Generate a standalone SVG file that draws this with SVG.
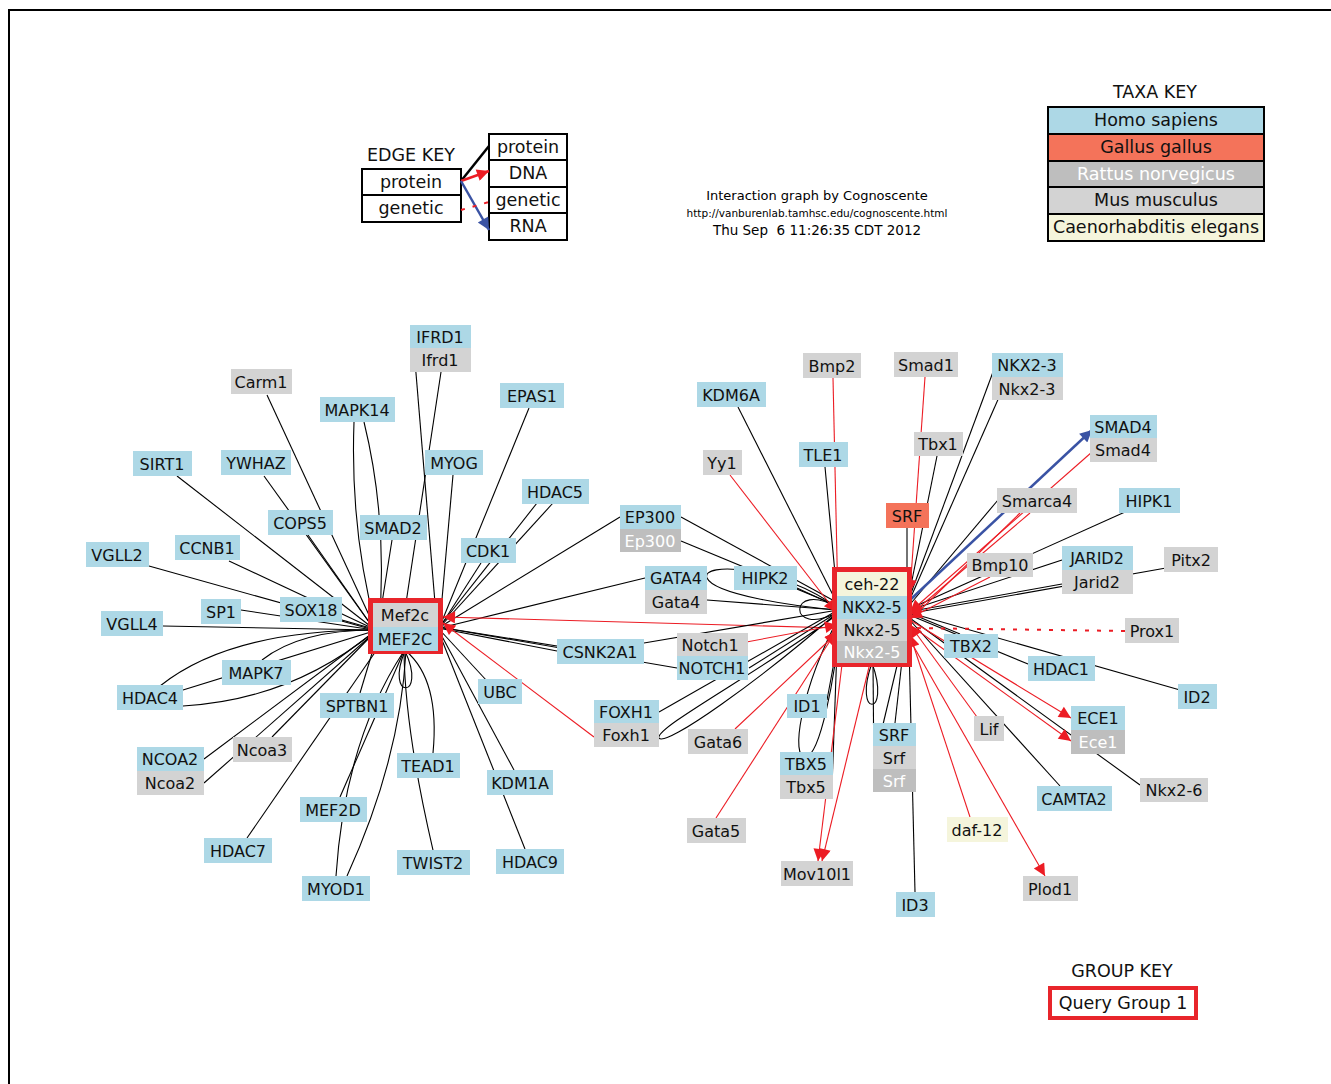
<svg xmlns="http://www.w3.org/2000/svg" width="1331" height="1084" viewBox="0 0 1331 1084">
<style>
text{font-family:"DejaVu Sans","Verdana","Liberation Sans",sans-serif;text-anchor:middle}
.n{font-size:16px;fill:#111}
.w{font-size:16px;fill:#fff}
.k{font-size:17.5px;fill:#111}
.kw{font-size:17.5px;fill:#fff}
.b{fill:#add8e6}
.g{fill:#d3d3d3}
.r{fill:#bebebe}
.y{fill:#f5f5dc}
.t{fill:#f4735a}
.kb{stroke:#000;stroke-width:2}
.e{fill:none;stroke:#000;stroke-width:1.1}
.er{fill:none;stroke:#ec1c24;stroke-width:1.1}
.eb{fill:none;stroke:#3a53a4;stroke-width:2.5}
.ed{fill:none;stroke:#ec1c24;stroke-width:2;stroke-dasharray:4,8}
.grp{fill:none;stroke:#e8252b;stroke-width:5}
</style>
<defs>
<marker id="ar" viewBox="0 0 10 10" refX="10" refY="5" markerWidth="20" markerHeight="12" markerUnits="userSpaceOnUse" orient="auto"><path d="M0,0 L10,5 L0,10 z" fill="#ec1c24"/></marker>
<marker id="ab" viewBox="0 0 10 10" refX="10" refY="5" markerWidth="18" markerHeight="12" markerUnits="userSpaceOnUse" orient="auto"><path d="M0,0 L10,5 L0,10 z" fill="#3a53a4"/></marker>
</defs>
<rect x="0" y="0" width="1331" height="1084" fill="#fff"/>
<rect x="9" y="10" width="1340" height="1100" fill="none" stroke="#000" stroke-width="2"/>

<g id="edge-key">
<text x="411" y="161" class="k">EDGE KEY</text>
<rect x="362" y="169" width="99" height="26" fill="#fff" class="kb"/>
<text x="411" y="188" class="k">protein</text>
<rect x="362" y="195" width="99" height="27" fill="#fff" class="kb"/>
<text x="411" y="214" class="k">genetic</text>
<rect x="489" y="134" width="78" height="26" fill="#fff" class="kb"/>
<text x="528" y="153" class="k">protein</text>
<rect x="489" y="160" width="78" height="27" fill="#fff" class="kb"/>
<text x="528" y="179" class="k">DNA</text>
<rect x="489" y="187" width="78" height="26" fill="#fff" class="kb"/>
<text x="528" y="206" class="k">genetic</text>
<rect x="489" y="213" width="78" height="27" fill="#fff" class="kb"/>
<text x="528" y="232" class="k">RNA</text>
<path d="M461,181 L489,146" fill="none" stroke="#000" stroke-width="2.5"/>
<path d="M461,181 L489,171" fill="none" stroke="#ec1c24" stroke-width="2.5" marker-end="url(#ar)"/>
<path d="M461,181 L489,230" class="eb" marker-end="url(#ab)"/>
<path d="M461,210 L489,202" class="ed"/>
</g>

<g id="title">
<text x="817" y="200" style="font-size:13px">Interaction graph by Cognoscente</text>
<text x="817" y="217" style="font-size:10.5px">http://vanburenlab.tamhsc.edu/cognoscente.html</text>
<text x="817" y="235" style="font-size:13.5px" xml:space="preserve">Thu Sep  6 11:26:35 CDT 2012</text>
</g>

<g id="taxa-key">
<text x="1155" y="98" class="k">TAXA KEY</text>
<rect x="1048" y="107" width="216" height="27" class="b kb"/><text x="1156" y="126" class="k">Homo sapiens</text>
<rect x="1048" y="134" width="216" height="27" class="t kb"/><text x="1156" y="153" class="k">Gallus gallus</text>
<rect x="1048" y="161" width="216" height="26" class="r kb"/><text x="1156" y="180" class="kw">Rattus norvegicus</text>
<rect x="1048" y="187" width="216" height="27" class="g kb"/><text x="1156" y="206" class="k">Mus musculus</text>
<rect x="1048" y="214" width="216" height="27" class="y kb"/><text x="1156" y="233" class="k">Caenorhabditis elegans</text>
</g>

<g id="group-key">
<text x="1122" y="977" class="k">GROUP KEY</text>
<rect x="1050" y="988" width="146" height="30" fill="#fff" stroke="#e8252b" stroke-width="4"/>
<text x="1123" y="1009" class="k">Query Group 1</text>
</g>

<g id="connectors">
<path class="e" d="M267,395 L375,628"/>
<path class="e" d="M354,422 Q350,530 376,628"/>
<path class="e" d="M364,422 Q388,520 379,628"/>
<path class="e" d="M177,476 L374,629"/>
<path class="e" d="M264,476 L374,629"/>
<path class="e" d="M308,535 L374,629"/>
<path class="e" d="M392,540 L378,628"/>
<path class="e" d="M229,561 L374,629"/>
<path class="e" d="M149,566 L374,629"/>
<path class="e" d="M241,610 L374,630"/>
<path class="e" d="M338,620 L374,630"/>
<path class="e" d="M163,626 L374,630"/>
<path class="e" d="M262,660 Q300,630 374,630"/>
<path class="e" d="M160,686 Q230,630 374,630"/>
<path class="e" d="M183,690 L374,631"/>
<path class="e" d="M183,706 Q290,700 374,632"/>
<path class="e" d="M360,693 L376,640"/>
<path class="e" d="M204,759 L374,632"/>
<path class="e" d="M204,783 L374,633"/>
<path class="e" d="M272,737 L374,633"/>
<path class="e" d="M247,838 L378,648"/>
<path class="e" d="M340,797 L404,651"/>
<path class="e" d="M336,876 Q345,740 404,651"/>
<path class="e" d="M347,876 Q400,760 406,651"/>
<path class="e" d="M433,753 Q440,680 406,651"/>
<path class="e" d="M433,850 Q405,730 404,651"/>
<path class="e" d="M405,651 C384,700 428,700 405,651"/>
<path class="e" d="M525,849 L438,630"/>
<path class="e" d="M514,770 L438,629"/>
<path class="e" d="M487,681 L438,628"/>
<path class="e" d="M557,646 L438,627"/>
<path class="e" d="M557,651 L438,628"/>
<path class="e" d="M677,668 L438,627"/>
<path class="e" d="M413,337 L436,615"/>
<path class="e" d="M441,372 L406,603"/>
<path class="e" d="M453,475 L440,622"/>
<path class="e" d="M529,408 L440,626"/>
<path class="e" d="M537,503 L440,626"/>
<path class="e" d="M553,503 L440,627"/>
<path class="e" d="M481,563 L440,627"/>
<path class="e" d="M620,517 L440,627"/>
<path class="e" d="M645,578 L440,628"/>
<path class="er" d="M594,737 L443,623" marker-end="url(#ar)"/>
<path class="er" d="M837,628 L443,617" marker-end="url(#ar)"/>
<path class="e" d="M644,643 L838,610"/>
<path class="e" d="M738,407 L838,605"/>
<path class="e" d="M825,467 L838,605"/>
<path class="e" d="M937,456 L907,605"/>
<path class="e" d="M993,372 L907,604"/>
<path class="e" d="M1000,395 L907,606"/>
<path class="e" d="M907,528 L907,600"/>
<path class="e" d="M998,500 L907,608"/>
<path class="e" d="M1125,512 L907,610"/>
<path class="e" d="M1062,560 L907,611"/>
<path class="e" d="M1062,584 L907,612"/>
<path class="e" d="M1166,568 L907,614"/>
<path class="e" d="M960,634 L907,612"/>
<path class="e" d="M1028,664 L907,614"/>
<path class="e" d="M1180,690 L907,612"/>
<path class="e" d="M1060,786 L907,617"/>
<path class="e" d="M1140,785 L907,616"/>
<path class="e" d="M895,723 L906,625"/>
<path class="e" d="M875,758 L906,628"/>
<path class="e" d="M874,780 L873,663"/>
<path class="e" d="M915,892 L909,645"/>
<path class="e" d="M872,663 C852,718 892,718 872,663"/>
<path class="e" d="M832,787 L838,620"/>
<path class="e" d="M840,615 C800,690 790,760 806,757 C820,754 835,680 840,620"/>
<path class="e" d="M827,700 L840,630"/>
<path class="e" d="M681,517 L838,603"/>
<path class="e" d="M681,541 L838,606"/>
<path class="e" d="M707,600 L838,610"/>
<path class="e" d="M838,608 C780,565 700,562 707,578 C714,594 790,606 838,610"/>
<path class="e" d="M797,588 L838,607"/>
<path class="e" d="M838,608 C788,578 786,640 838,612"/>
<path class="e" d="M749,668 L838,612"/>
<path class="e" d="M659,712 L838,610"/>
<path class="e" d="M838,612 C760,680 665,748 659,738 C654,728 760,672 838,614"/>
<path class="er" d="M833,378 L838,604" marker-end="url(#ar)"/>
<path class="er" d="M730,475 L836,612" marker-end="url(#ar)"/>
<path class="er" d="M925,377 L910,592" marker-end="url(#ar)"/>
<path class="er" d="M1092,452 L910,612" marker-end="url(#ar)"/>
<path class="eb" d="M910,600 L1092,430" marker-end="url(#ab)"/>
<path class="er" d="M1030,513 L910,615" marker-end="url(#ar)"/>
<path class="er" d="M1020,513 L910,620"/>
<path class="er" d="M990,577 L910,618" marker-end="url(#ar)"/>
<path class="ed" d="M1125,631 L912,628"/>
<path class="er" d="M977,717 L910,625" marker-end="url(#ar)"/>
<path class="er" d="M910,620 L1071,718" marker-end="url(#ar)"/>
<path class="er" d="M910,625 L1071,741" marker-end="url(#ar)"/>
<path class="er" d="M970,817 L910,635" marker-end="url(#ar)"/>
<path class="er" d="M910,640 L1045,876" marker-end="url(#ar)"/>
<path class="er" d="M845,640 L818,861" marker-end="url(#ar)"/>
<path class="er" d="M870,663 L822,861" marker-end="url(#ar)"/>
<path class="er" d="M716,818 L837,630" marker-end="url(#ar)"/>
<path class="er" d="M735,729 L837,633" marker-end="url(#ar)"/>
<path class="er" d="M741,643 L837,625" marker-end="url(#ar)"/>
</g>

<g id="MEF2C-group">
<rect x="370.5" y="600.5" width="70" height="51" class="grp"/>
<rect x="373" y="603" width="65" height="24" class="g"/><text x="405" y="621" class="n">Mef2c</text>
<rect x="373" y="627" width="65" height="24" class="b"/><text x="405" y="645" class="n">MEF2C</text>
</g>

<g id="NKX2-5-group">
<rect x="834.5" y="569.5" width="75" height="95" class="grp"/>
<rect x="837" y="572" width="70" height="24" class="y"/><text x="872" y="590" class="n">ceh-22</text>
<rect x="837" y="596" width="70" height="23" class="b"/><text x="872" y="613" class="n">NKX2-5</text>
<rect x="837" y="619" width="70" height="22" class="g"/><text x="872" y="636" class="n">Nkx2-5</text>
<rect x="837" y="641" width="70" height="22" class="r"/><text x="872" y="658" class="w">Nkx2-5</text>
</g>

<g id="IFRD1"><rect x="410" y="325" width="61" height="23" class="b"/><text x="440" y="343" class="n">IFRD1</text><rect x="410" y="348" width="61" height="24" class="g"/><text x="440" y="366" class="n">Ifrd1</text></g>
<g id="Carm1"><rect x="231" y="369" width="61" height="25" class="g"/><text x="261" y="388" class="n">Carm1</text></g>
<g id="MAPK14"><rect x="320" y="397" width="75" height="25" class="b"/><text x="357" y="416" class="n">MAPK14</text></g>
<g id="EPAS1"><rect x="500" y="383" width="64" height="25" class="b"/><text x="532" y="402" class="n">EPAS1</text></g>
<g id="SIRT1"><rect x="133" y="451" width="59" height="25" class="b"/><text x="162" y="470" class="n">SIRT1</text></g>
<g id="YWHAZ"><rect x="221" y="450" width="70" height="25" class="b"/><text x="256" y="469" class="n">YWHAZ</text></g>
<g id="MYOG"><rect x="425" y="450" width="58" height="25" class="b"/><text x="454" y="469" class="n">MYOG</text></g>
<g id="HDAC5"><rect x="522" y="479" width="67" height="25" class="b"/><text x="555" y="498" class="n">HDAC5</text></g>
<g id="COPS5"><rect x="268" y="510" width="65" height="25" class="b"/><text x="300" y="529" class="n">COPS5</text></g>
<g id="SMAD2"><rect x="360" y="515" width="67" height="25" class="b"/><text x="393" y="534" class="n">SMAD2</text></g>
<g id="CDK1"><rect x="461" y="538" width="55" height="25" class="b"/><text x="488" y="557" class="n">CDK1</text></g>
<g id="CCNB1"><rect x="175" y="535" width="65" height="25" class="b"/><text x="207" y="554" class="n">CCNB1</text></g>
<g id="VGLL2"><rect x="86" y="542" width="63" height="25" class="b"/><text x="117" y="561" class="n">VGLL2</text></g>
<g id="SP1"><rect x="201" y="599" width="40" height="25" class="b"/><text x="221" y="618" class="n">SP1</text></g>
<g id="SOX18"><rect x="280" y="597" width="62" height="25" class="b"/><text x="311" y="616" class="n">SOX18</text></g>
<g id="VGLL4"><rect x="101" y="611" width="62" height="25" class="b"/><text x="132" y="630" class="n">VGLL4</text></g>
<g id="MAPK7"><rect x="222" y="660" width="69" height="25" class="b"/><text x="256" y="679" class="n">MAPK7</text></g>
<g id="HDAC4"><rect x="117" y="685" width="66" height="25" class="b"/><text x="150" y="704" class="n">HDAC4</text></g>
<g id="SPTBN1"><rect x="320" y="693" width="74" height="25" class="b"/><text x="357" y="712" class="n">SPTBN1</text></g>
<g id="NCOA2"><rect x="137" y="747" width="67" height="24" class="b"/><text x="170" y="765" class="n">NCOA2</text><rect x="137" y="771" width="67" height="24" class="g"/><text x="170" y="789" class="n">Ncoa2</text></g>
<g id="Ncoa3"><rect x="233" y="737" width="59" height="25" class="g"/><text x="262" y="756" class="n">Ncoa3</text></g>
<g id="UBC"><rect x="478" y="679" width="44" height="25" class="b"/><text x="500" y="698" class="n">UBC</text></g>
<g id="TEAD1"><rect x="397" y="753" width="63" height="25" class="b"/><text x="428" y="772" class="n">TEAD1</text></g>
<g id="KDM1A"><rect x="487" y="770" width="66" height="25" class="b"/><text x="520" y="789" class="n">KDM1A</text></g>
<g id="MEF2D"><rect x="300" y="797" width="67" height="25" class="b"/><text x="333" y="816" class="n">MEF2D</text></g>
<g id="HDAC7"><rect x="204" y="838" width="68" height="25" class="b"/><text x="238" y="857" class="n">HDAC7</text></g>
<g id="TWIST2"><rect x="397" y="850" width="73" height="25" class="b"/><text x="433" y="869" class="n">TWIST2</text></g>
<g id="HDAC9"><rect x="496" y="849" width="68" height="25" class="b"/><text x="530" y="868" class="n">HDAC9</text></g>
<g id="MYOD1"><rect x="302" y="876" width="68" height="25" class="b"/><text x="336" y="895" class="n">MYOD1</text></g>
<g id="CSNK2A1"><rect x="557" y="639" width="87" height="25" class="b"/><text x="600" y="658" class="n">CSNK2A1</text></g>

<g id="Bmp2"><rect x="803" y="353" width="58" height="25" class="g"/><text x="832" y="372" class="n">Bmp2</text></g>
<g id="Smad1"><rect x="894" y="352" width="64" height="25" class="g"/><text x="926" y="371" class="n">Smad1</text></g>
<g id="NKX2-3"><rect x="992" y="353" width="71" height="24" class="b"/><text x="1027" y="371" class="n">NKX2-3</text><rect x="992" y="377" width="71" height="23" class="g"/><text x="1027" y="395" class="n">Nkx2-3</text></g>
<g id="KDM6A"><rect x="697" y="382" width="69" height="25" class="b"/><text x="731" y="401" class="n">KDM6A</text></g>
<g id="SMAD4"><rect x="1090" y="415" width="67" height="23" class="b"/><text x="1123" y="433" class="n">SMAD4</text><rect x="1090" y="438" width="67" height="24" class="g"/><text x="1123" y="456" class="n">Smad4</text></g>
<g id="Tbx1"><rect x="914" y="432" width="49" height="24" class="g"/><text x="938" y="450" class="n">Tbx1</text></g>
<g id="TLE1"><rect x="799" y="442" width="49" height="25" class="b"/><text x="823" y="461" class="n">TLE1</text></g>
<g id="Yy1"><rect x="703" y="450" width="39" height="25" class="g"/><text x="722" y="469" class="n">Yy1</text></g>
<g id="HIPK1"><rect x="1119" y="488" width="61" height="25" class="b"/><text x="1149" y="507" class="n">HIPK1</text></g>
<g id="Smarca4"><rect x="997" y="488" width="80" height="25" class="g"/><text x="1037" y="507" class="n">Smarca4</text></g>
<g id="SRF-gallus"><rect x="886" y="503" width="43" height="25" class="t"/><text x="907" y="522" class="n">SRF</text></g>
<g id="EP300"><rect x="620" y="505" width="61" height="24" class="b"/><text x="650" y="523" class="n">EP300</text><rect x="620" y="529" width="61" height="23" class="r"/><text x="650" y="547" class="w">Ep300</text></g>
<g id="JARID2"><rect x="1062" y="546" width="71" height="24" class="b"/><text x="1097" y="564" class="n">JARID2</text><rect x="1062" y="570" width="71" height="24" class="g"/><text x="1097" y="588" class="n">Jarid2</text></g>
<g id="Pitx2"><rect x="1164" y="547" width="54" height="25" class="g"/><text x="1191" y="566" class="n">Pitx2</text></g>
<g id="Bmp10"><rect x="967" y="553" width="66" height="24" class="g"/><text x="1000" y="571" class="n">Bmp10</text></g>
<g id="GATA4"><rect x="645" y="566" width="62" height="24" class="b"/><text x="676" y="584" class="n">GATA4</text><rect x="645" y="590" width="62" height="24" class="g"/><text x="676" y="608" class="n">Gata4</text></g>
<g id="HIPK2"><rect x="734" y="566" width="63" height="24" class="b"/><text x="765" y="584" class="n">HIPK2</text></g>
<g id="Prox1"><rect x="1125" y="618" width="54" height="25" class="g"/><text x="1152" y="637" class="n">Prox1</text></g>
<g id="NOTCH1"><rect x="677" y="633" width="71" height="23" class="g"/><text x="710" y="651" class="n">Notch1</text><rect x="677" y="656" width="71" height="24" class="b"/><text x="712" y="674" class="n">NOTCH1</text></g>
<g id="TBX2"><rect x="944" y="634" width="54" height="24" class="b"/><text x="971" y="652" class="n">TBX2</text></g>
<g id="HDAC1"><rect x="1028" y="656" width="67" height="25" class="b"/><text x="1061" y="675" class="n">HDAC1</text></g>
<g id="ID2"><rect x="1178" y="684" width="39" height="25" class="b"/><text x="1197" y="703" class="n">ID2</text></g>
<g id="FOXH1"><rect x="594" y="700" width="65" height="23" class="b"/><text x="626" y="718" class="n">FOXH1</text><rect x="594" y="723" width="65" height="24" class="g"/><text x="626" y="741" class="n">Foxh1</text></g>
<g id="ID1"><rect x="787" y="694" width="40" height="24" class="b"/><text x="807" y="712" class="n">ID1</text></g>
<g id="Gata6"><rect x="688" y="729" width="60" height="25" class="g"/><text x="718" y="748" class="n">Gata6</text></g>
<g id="Lif"><rect x="974" y="716" width="30" height="25" class="g"/><text x="989" y="735" class="n">Lif</text></g>
<g id="ECE1"><rect x="1071" y="706" width="54" height="24" class="b"/><text x="1098" y="724" class="n">ECE1</text><rect x="1071" y="730" width="54" height="24" class="r"/><text x="1098" y="748" class="w">Ece1</text></g>
<g id="SRF"><rect x="873" y="723" width="43" height="23" class="b"/><text x="894" y="741" class="n">SRF</text><rect x="873" y="746" width="43" height="23" class="g"/><text x="894" y="764" class="n">Srf</text><rect x="873" y="769" width="43" height="23" class="r"/><text x="894" y="787" class="w">Srf</text></g>
<g id="TBX5"><rect x="780" y="752" width="53" height="23" class="b"/><text x="806" y="770" class="n">TBX5</text><rect x="780" y="775" width="53" height="24" class="g"/><text x="806" y="793" class="n">Tbx5</text></g>
<g id="CAMTA2"><rect x="1037" y="786" width="75" height="25" class="b"/><text x="1074" y="805" class="n">CAMTA2</text></g>
<g id="Nkx2-6"><rect x="1140" y="778" width="68" height="24" class="g"/><text x="1174" y="796" class="n">Nkx2-6</text></g>
<g id="Gata5"><rect x="687" y="818" width="59" height="25" class="g"/><text x="716" y="837" class="n">Gata5</text></g>
<g id="daf-12"><rect x="947" y="817" width="61" height="25" class="y"/><text x="977" y="836" class="n">daf-12</text></g>
<g id="Mov10l1"><rect x="781" y="861" width="72" height="25" class="g"/><text x="817" y="880" class="n">Mov10l1</text></g>
<g id="Plod1"><rect x="1023" y="876" width="55" height="25" class="g"/><text x="1050" y="895" class="n">Plod1</text></g>
<g id="ID3"><rect x="896" y="892" width="39" height="25" class="b"/><text x="915" y="911" class="n">ID3</text></g>
</svg>
